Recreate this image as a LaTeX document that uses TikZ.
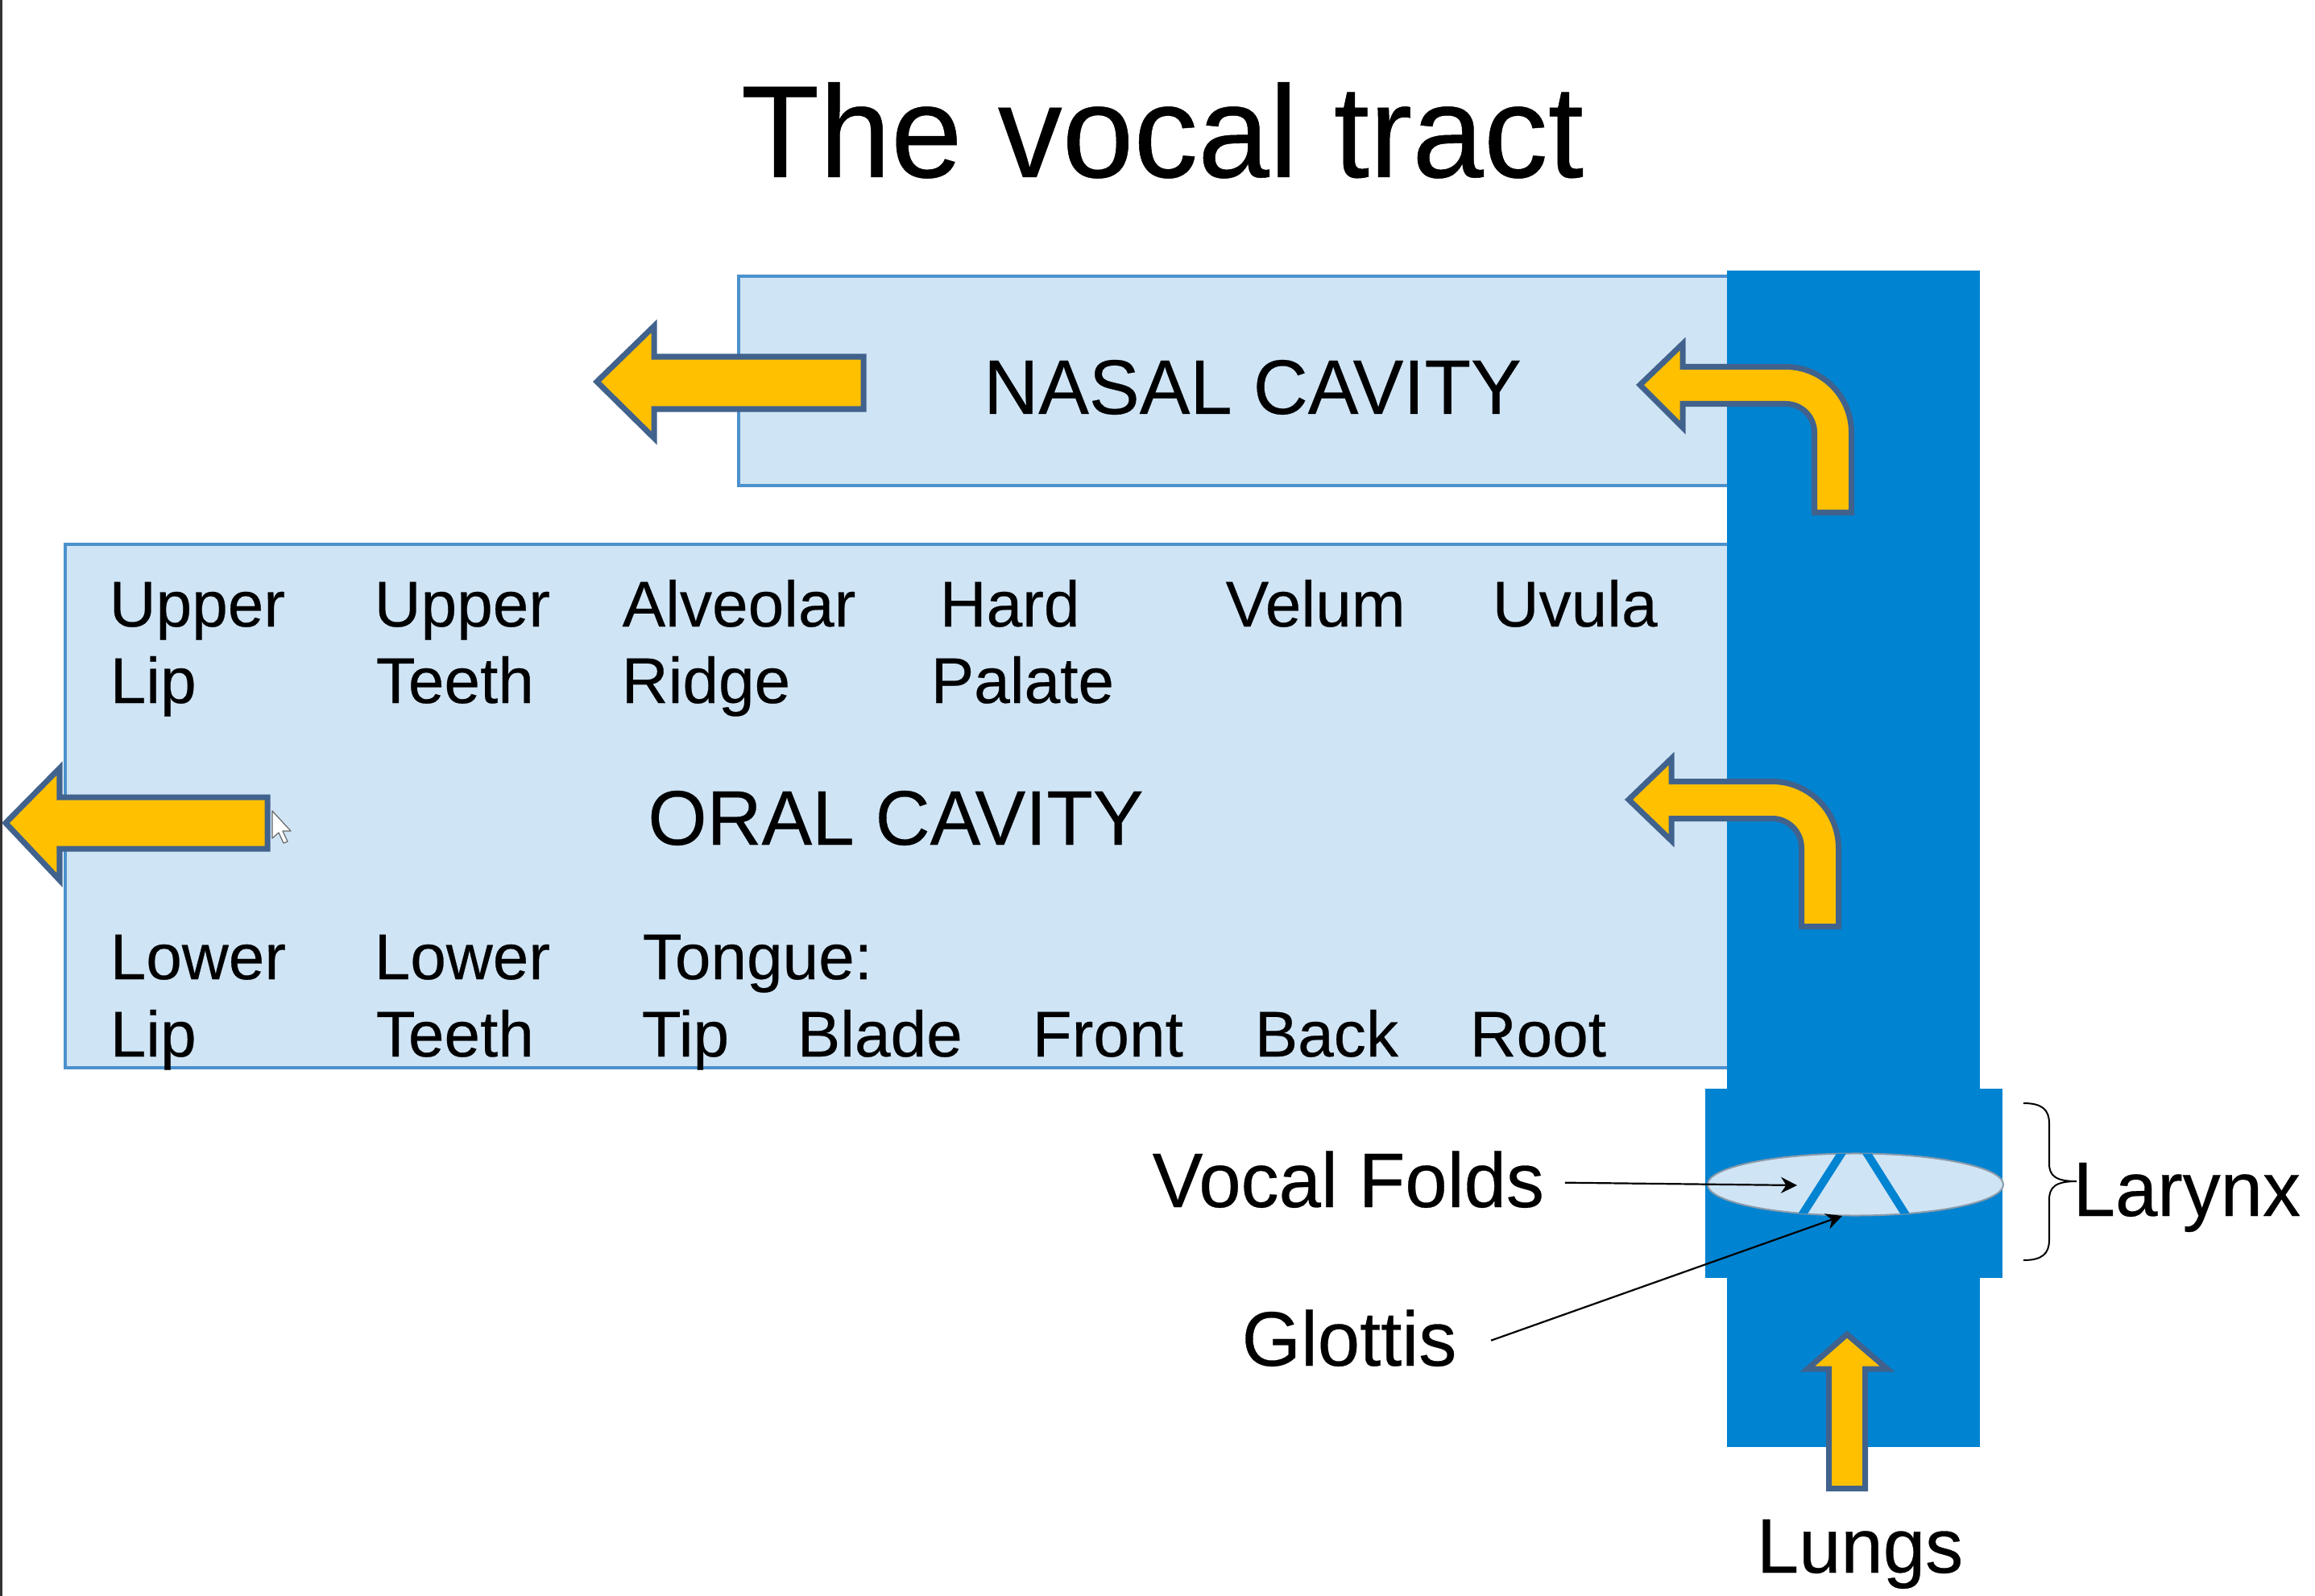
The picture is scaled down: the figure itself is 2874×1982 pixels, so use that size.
\documentclass[tikz,border=0pt]{standalone}
\usepackage{fontspec}
\usetikzlibrary{arrows.meta}
\newfontfamily\lsans[FakeStretch=0.98,FakeBold=0.3]{Liberation Sans}
\newfontfamily\lsanslbl[FakeStretch=1.0,FakeBold=0.3]{Liberation Sans}
\newcommand\lblfont{\lsanslbl\fontsize{22.8pt}{27pt}\selectfont}
\newcommand\bigfont{\lsans\fontsize{27.3pt}{32pt}\selectfont}
\newcommand\titlefont{\lsans\fontsize{46.3pt}{56pt}\selectfont}
\definecolor{tract}{RGB}{0,131,209}
\definecolor{cavity}{RGB}{207,228,245}
\definecolor{cavline}{RGB}{75,145,205}
\definecolor{arrowfill}{RGB}{255,192,0}
\definecolor{arrowline}{RGB}{65,98,140}
\definecolor{foldline}{RGB}{140,155,170}
\tikzset{
  cav/.style={fill=cavity, draw=cavline, line width=0.035cm},
  flowarrow/.style={fill=arrowfill, draw=arrowline, line width=0.07cm, line join=miter},
  lbl/.style={font=\lblfont, inner sep=0pt, anchor=base west, text=black},
  bigtxt/.style={font=\bigfont, inner sep=0pt, text=black},
  ptr/.style={draw=black, line width=0.022cm, -{Stealth[length=0.2cm,width=0.2cm]}},
}
\begin{document}
\begin{tikzpicture}[x=0.01cm,y=-0.01cm]
\useasboundingbox (0,0) rectangle (2874,1982);
\fill[white] (0,0) rectangle (2874,1982);
\draw[black!80, line width=0.03cm] (1.5,0) -- (1.5,1982);

% title
\node[font=\titlefont, inner sep=0pt, anchor=base] (title) at (1443,220) {The vocal tract};

% cavities
\draw[cav] (917,343) rectangle (2150,603);
\draw[cav] (81,676) rectangle (2150,1326);

% vocal tract column and larynx
\fill[tract] (2144,336) rectangle (2458,1797);
\fill[tract] (2117,1352) rectangle (2486,1587);

% vocal folds ellipse
\draw[fill=cavity, draw=foldline, line width=0.02cm] (2303.5,1471) ellipse [x radius=1.835cm, y radius=0.385cm];
\begin{scope}
  \clip (2303.5,1471) ellipse [x radius=1.835cm, y radius=0.385cm];
  \draw[tract, line width=0.1cm] (2294,1420) -- (2230,1520);
  \draw[tract, line width=0.1cm] (2310,1420) -- (2373,1520);
\end{scope}

% straight arrows
\draw[flowarrow] (741,474) -- (812,405) -- (812,443) -- (1072,443) -- (1072,508) -- (812,508) -- (812,544) -- cycle;
\draw[flowarrow] (7,1022) -- (74,954) -- (74,990) -- (332,990) -- (332,1054) -- (74,1054) -- (74,1093) -- cycle;

% curved arrows
\draw[flowarrow] (2036,478) -- (2089,427) -- (2089,455.5) -- (2217,455.5)
  .. controls (2262,455.5) and (2298.5,492) .. (2298.5,537) -- (2298.5,636.5) -- (2252.5,636.5) -- (2252.5,537)
  .. controls (2252.5,517.4) and (2236.6,501.5) .. (2217,501.5) -- (2089,501.5) -- (2089,531) -- cycle;
\draw[flowarrow] (2022,993) -- (2075,942) -- (2075,970.5) -- (2200,970.5)
  .. controls (2245.6,970.5) and (2282.5,1007.4) .. (2282.5,1053) -- (2282.5,1150.5) -- (2236.5,1150.5) -- (2236.5,1053)
  .. controls (2236.5,1032.8) and (2220.2,1016.5) .. (2200,1016.5) -- (2075,1016.5) -- (2075,1044) -- cycle;

% lungs arrow
\draw[flowarrow] (2293,1657) -- (2343,1700) -- (2315.5,1700) -- (2315.5,1848.5) -- (2270.5,1848.5) -- (2270.5,1700) -- (2244,1700) -- cycle;

% cursor
\draw[fill=white, draw=black!60, line width=0.012cm, line join=round] (338,1007) -- (338,1041) -- (346,1034) -- (352,1047) -- (357,1045) -- (351,1032) -- (361,1032) -- cycle;

% cavity titles
\node[bigtxt, anchor=base] (nasal) at (1555,514) {NASAL CAVITY};
\node[bigtxt, anchor=base] (oral) at (1112,1049) {ORAL CAVITY};

% upper articulators
\node[lbl] (up1) at (135,778) {Upper};
\node[lbl] (lip1) at (136,873) {Lip};
\node[lbl] (up2) at (464,778) {Upper};
\node[lbl] (teeth1) at (466,873) {Teeth};
\node[lbl] (alv) at (772,778) {Alveolar};
\node[lbl] (ridge) at (771,873) {Ridge};
\node[lbl] (hard) at (1166,778) {Hard};
\node[lbl] (palate) at (1155,873) {Palate};
\node[lbl] (velum) at (1521,778) {Velum};
\node[lbl] (uvula) at (1852,778) {Uvula};

% lower articulators
\node[lbl] (low1) at (136,1216) {Lower};
\node[lbl] (lip2) at (136,1312) {Lip};
\node[lbl] (low2) at (464,1216) {Lower};
\node[lbl] (teeth2) at (466,1312) {Teeth};
\node[lbl] (tongue) at (797,1216) {Tongue:};
\node[lbl] (tip) at (796,1312) {Tip};
\node[lbl] (blade) at (989,1312) {Blade};
\node[lbl] (front) at (1281,1312) {Front};
\node[lbl] (back) at (1557,1312) {Back};
\node[lbl] (root) at (1824,1312) {Root};

% larynx labels
\node[bigtxt, anchor=base west] (vf) at (1430,1499) {Vocal Folds};
\node[bigtxt, anchor=base west] (gl) at (1541,1696) {Glottis};
\node[bigtxt, anchor=base west] (lar) at (2573,1510) {Larynx};
\node[bigtxt, anchor=base] (lungs) at (2309,1953) {Lungs};

\coordinate (vfend) at (2231,1472);
\coordinate (glend) at (2287,1510);
\draw[ptr] ([xshift=0.25cm,yshift=-0.04cm]vf.east) -- (vfend);
\draw[ptr] ([xshift=0.42cm,yshift=-0.03cm]gl.east) -- (glend);

% brace
\draw[black, line width=0.02cm] (2512,1370) .. controls (2535,1370) and (2544,1378) .. (2544,1395) -- (2544,1445)
  .. controls (2544,1460) and (2552,1467) .. (2578,1467)
  .. controls (2552,1467) and (2544,1474) .. (2544,1490) -- (2544,1540)
  .. controls (2544,1557) and (2535,1565) .. (2512,1565);
\end{tikzpicture}
\end{document}
